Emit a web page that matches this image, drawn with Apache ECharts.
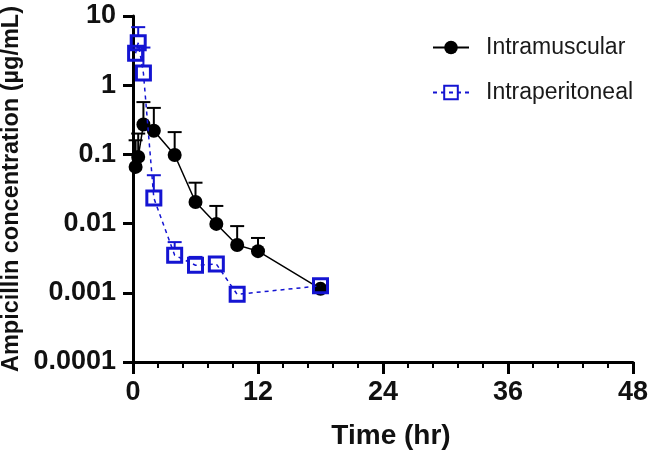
<!DOCTYPE html>
<html>
<head>
<meta charset="utf-8">
<script src="https://cdn.jsdelivr.net/npm/echarts@6/dist/echarts.min.js"></script>
<style>
  html, body { margin: 0; padding: 0; background: #fff; }
  #chart { width: 666px; height: 457px; }
</style>
</head>
<body>
<div id="chart"></div>
<script>
// time points (hr)
const imTime = [0.25, 0.5, 1, 2, 4, 6, 8, 10, 12, 18]
const ipTime = [0.25, 0.5, 1, 2, 4, 6, 8, 10, 18]
// mean concentration (µg/mL)
const imMean = [0.066, 0.092, 0.27, 0.22, 0.098, 0.0205, 0.0099, 0.0049, 0.0040, 0.00114]
const ipMean = [2.9, 4.1, 1.5, 0.0234, 0.0035, 0.0025, 0.0026, 0.00095, 0.00126]
// top of error bar (mean + SD), null = hidden
const imUpper = [0.16, 0.20, 0.57, 0.47, 0.21, 0.039, 0.018, 0.0092, 0.0062, null]
const ipUpper = [null, 6.9, 3.5, 0.050, 0.0054, 0.0033, null, null, null]

const xTicks = [0, 12, 24, 36, 48]
const seriesNames = ['Intramuscular', 'Intraperitoneal']

const black = '#000'
const blue = '#1414d2'
const fontFamily = '"Liberation Sans", Arial, sans-serif'

function pairs(times, vals) {
  return times.map((t, i) => [t, vals[i]])
}

// upper-only error bars with a cap
function errorBars(times, means, uppers, color, offset) {
  let data = []
  times.forEach((t, i) => {
    if (uppers[i] != null) data.push([t, means[i], uppers[i]])
  })
  return {
    type: 'custom',
    z: 1,
    silent: true,
    data: data,
    renderItem(params, api) {
      let base = api.coord([api.value(0), api.value(1)])
      let top = api.coord([api.value(0), api.value(2)])
      let w = 7
      return {
        type: 'group',
        children: [
          { type: 'line', shape: { x1: base[0], y1: base[1] - offset, x2: top[0], y2: top[1] }, style: { stroke: color, lineWidth: 2 } },
          { type: 'line', shape: { x1: top[0] - w, y1: top[1], x2: top[0] + w, y2: top[1] }, style: { stroke: color, lineWidth: 2 } }
        ]
      }
    }
  }
}

function fmtLog(v) {
  if (v >= 1) return String(Math.round(v))
  let d = Math.round(-Math.log10(v))
  return v.toFixed(d)
}

let myChart = echarts.init(document.getElementById('chart'))
myChart.setOption({
  animation: false,
  grid: { left: 133, right: 33, top: 16, bottom: 95, containLabel: false, outerBoundsMode: 'none' },
  legend: {
    orient: 'vertical',
    left: 432,
    top: 36,
    padding: 0,
    itemWidth: 36,
    itemHeight: 17,
    itemGap: 22,
    textStyle: { fontFamily: fontFamily, fontSize: 23, color: '#1a1a1a', padding: [0, 0, 0, 12] },
    data: seriesNames
  },
  xAxis: {
    type: 'value',
    min: 0,
    max: 48,
    interval: 12,
    name: 'Time (hr)',
    nameLocation: 'middle',
    nameGap: 60,
    nameMoveOverlap: false,
    nameTextStyle: { fontFamily: fontFamily, fontSize: 28, fontWeight: 'bold', color: '#111', padding: [0, 0, 0, 16] },
    axisLine: { lineStyle: { color: black, width: 3 } },
    axisTick: { length: 12, lineStyle: { color: black, width: 3 } },
    minorTick: { show: true, splitNumber: 5, length: 6, lineStyle: { color: black, width: 2 } },
    axisLabel: {
      margin: 17,
      fontFamily: fontFamily, fontSize: 27, fontWeight: 'bold', color: '#111',
      formatter: v => xTicks.includes(v) ? String(v) : ''
    },
    splitLine: { show: false }
  },
  yAxis: {
    type: 'log',
    logBase: 10,
    min: 0.0001,
    max: 10,
    name: 'Ampicillin concentration (µg/mL)',
    nameLocation: 'middle',
    nameGap: 109,
    nameMoveOverlap: false,
    nameTextStyle: { fontFamily: fontFamily, fontSize: 23.5, fontWeight: 'bold', color: '#111' },
    axisLine: { lineStyle: { color: black, width: 3 } },
    axisTick: { length: 10, lineStyle: { color: black, width: 3 } },
    axisLabel: {
      margin: 17,
      fontFamily: fontFamily, fontSize: 27, fontWeight: 'bold', color: '#111',
      formatter: fmtLog
    },
    splitLine: { show: false }
  },
  series: [
    errorBars(imTime, imMean, imUpper, black, 0),
    errorBars(ipTime, ipMean, ipUpper, blue, 7),
    {
      name: seriesNames[0],
      type: 'line',
      z: 3,
      symbol: 'circle',
      symbolSize: 14,
      itemStyle: { color: black },
      lineStyle: { color: black, width: 1.5 },
      data: pairs(imTime, imMean)
    },
    {
      name: seriesNames[1],
      type: 'line',
      z: 4,
      symbol: 'rect',
      symbolSize: 14,
      itemStyle: { color: 'rgba(255,255,255,0)', borderColor: blue, borderWidth: 3 },
      lineStyle: { color: blue, width: 1.5, type: [4, 4] },
      data: pairs(ipTime, ipMean)
    }
  ]
})
</script>
</body>
</html>
